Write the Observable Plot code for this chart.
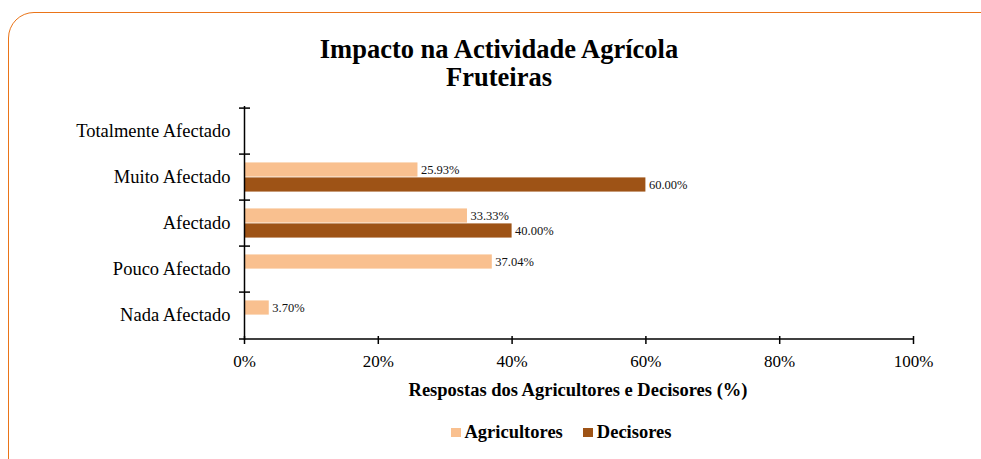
<!DOCTYPE html>
<html><head><meta charset="utf-8">
<script src="https://cdn.jsdelivr.net/npm/d3@7"></script>
<script src="https://cdn.jsdelivr.net/npm/@observablehq/plot@0.6"></script>
<style>
body{margin:0;background:#fff;font-family:"Liberation Serif","Times New Roman",serif;color:#000;}
#wrap{position:relative;width:981px;height:459px;overflow:hidden;}
#frame{position:absolute;left:8px;top:12px;width:1000px;height:480px;border:1.5px solid #EA7418;border-radius:26px;box-sizing:border-box;}
#title{position:absolute;left:0;width:998px;top:35px;text-align:center;font-weight:bold;font-size:26.5px;line-height:28px;}
#chart{position:absolute;left:0;top:90px;}
#xlabel{position:absolute;left:0;width:1156px;top:379px;text-align:center;font-weight:bold;font-size:18.5px;line-height:22px;}
#legend{position:absolute;left:0;width:1122px;top:421px;text-align:center;font-weight:bold;font-size:18.5px;line-height:22px;}
#legend span.sw{display:inline-block;width:10px;height:9px;margin-right:4px;vertical-align:1px;}
#legend span.it{margin:0 10px;}
</style></head>
<body>
<div id="wrap">
  <div id="frame"></div>
  <div id="title">Impacto na Actividade Agrícola<br>Fruteiras</div>
  <div id="chart"></div>
  <div id="xlabel">Respostas dos Agricultores e Decisores (%)</div>
  <div id="legend"></div>
</div>
<script>
const categories = ["Totalmente Afectado","Muito Afectado","Afectado","Pouco Afectado","Nada Afectado"];
const agricultores = [0, 25.93, 33.33, 37.04, 3.70];
const decisores = [0, 60.00, 40.00, 0, 0];
const seriesNames = ["Agricultores","Decisores"];
const seriesColors = ["#F9C08F","#9E5316"];
const xTicks = [0,20,40,60,80,100];

const W=981, H=330, mt=16, mb=80, ml=244, mr=68;
const bw=(H-mt-mb)/categories.length;

const rowsA = categories.map((c,i)=>({category:c, value:agricultores[i]})).filter(d=>d.value>0);
const rowsD = categories.map((c,i)=>({category:c, value:decisores[i]})).filter(d=>d.value>0);

const chart = Plot.plot({
  width: W, height: H,
  marginTop: mt, marginBottom: mb, marginLeft: ml, marginRight: mr,
  style: {fontFamily: '"Liberation Serif","Times New Roman",serif', fontSize: "17px", color: "#000", background: "transparent"},
  x: {domain: [0,100], label: null},
  y: {domain: categories, type: "band", padding: 0, label: null},
  marks: [
    Plot.barX(rowsA, {x: "value", y: "category", fill: seriesColors[0], insetTop: bw*0.18, insetBottom: bw/2}),
    Plot.barX(rowsD, {x: "value", y: "category", fill: seriesColors[1], insetTop: bw/2, insetBottom: bw*0.18}),
    Plot.text(rowsA, {x: "value", y: "category", text: d=>d.value.toFixed(2)+"%", dx: 3, dy: -bw*0.16, textAnchor: "start", fontSize: 12.5, fill: "#111"}),
    Plot.text(rowsD, {x: "value", y: "category", text: d=>d.value.toFixed(2)+"%", dx: 3, dy: bw*0.16, textAnchor: "start", fontSize: 12.5, fill: "#111"}),
    Plot.ruleX([0], {stroke: "#000", strokeWidth: 1.5}),
    Plot.ruleY(categories, {y: d=>d, dy: -bw/2, x1: -0.75, x2: 0.9, stroke: "#000", strokeWidth: 1.5}),
    Plot.ruleY([categories[categories.length-1]], {y: d=>d, dy: bw/2, x1: -0.75, x2: 100, stroke: "#000", strokeWidth: 1.5}),
    Plot.axisY({tickSize: 0, tickPadding: 14, fontSize: 18.5, label: null}),
    Plot.axisX({ticks: xTicks, tickSize: 8, dy: -4, tickPadding: 10, tickFormat: d=>d+"%", fontSize: 17, strokeWidth: 1.5, label: null})
  ]
});
document.getElementById("chart").appendChild(chart);

const lg = document.getElementById("legend");
seriesNames.forEach((n,i)=>{
  const it = document.createElement("span"); it.className="it";
  const sw = document.createElement("span"); sw.className="sw"; sw.style.background=seriesColors[i];
  it.appendChild(sw); it.appendChild(document.createTextNode(n));
  lg.appendChild(it);
});
</script>
</body></html>
